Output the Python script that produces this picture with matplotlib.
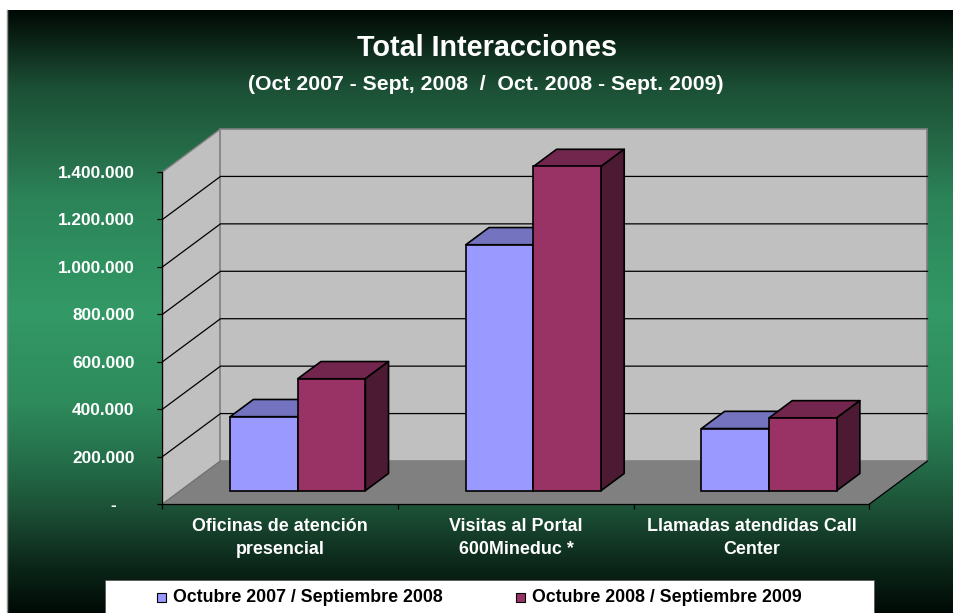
import matplotlib
matplotlib.use('Agg')
import matplotlib.pyplot as plt
from matplotlib.colors import LinearSegmentedColormap
from matplotlib.patches import Polygon, Rectangle
import numpy as np

plt.rcParams['font.family'] = ['Liberation Sans', 'DejaVu Sans']
plt.rcParams['font.weight'] = 'bold'

categories = ['Oficinas de atención\npresencial', 'Visitas al Portal\n600Mineduc *', 'Llamadas atendidas Call\nCenter']
serie_2008 = [312000, 1037000, 262000]
serie_2009 = [472000, 1367000, 307000]
nombres = ['Octubre 2007 / Septiembre 2008', 'Octubre 2008 / Septiembre 2009']
y_ticks = [0, 200000, 400000, 600000, 800000, 1000000, 1200000, 1400000]
y_labels = ['-', '200.000', '400.000', '600.000', '800.000', '1.000.000', '1.200.000', '1.400.000']

W, H = 954, 613
fig = plt.figure(figsize=(W / 100, H / 100), dpi=100, facecolor='white')

# fondo y textos en pixeles
bg = fig.add_axes([0, 0, 1, 1])
bg.set_xlim(0, W)
bg.set_ylim(H, 0)
bg.axis('off')
paradas = [(0, '#000a05'), (0.04, '#0a1f14'), (0.128, '#1c5036'), (0.23, '#256b48'), (0.315, '#2c8459'),
           (0.415, '#2f9060'), (0.5, '#339966'), (0.65, '#2e8b5c'), (0.76, '#236b48'), (0.83, '#1c5036'),
           (0.915, '#0d2a1c'), (1, '#000a05')]
cmap = LinearSegmentedColormap.from_list('fondo', paradas)
bg.imshow(np.linspace(0, 1, 256).reshape(-1, 1), cmap=cmap, aspect='auto', extent=(8, W, H, 10))
bg.set_xlim(0, W)
bg.set_ylim(H, 0)
bg.plot([7.5, 7.5], [10, H], color='#909090', lw=1)

bg.text(487, 48.5, 'Total Interacciones', color='white', fontsize=20.7, ha='center', va='center')
bg.text(486, 84, '(Oct 2007 - Sept, 2008  /  Oct. 2008 - Sept. 2009)', color='white', fontsize=15.3, ha='center', va='center')

# leyenda
bg.add_patch(Rectangle((105, 580), 769, 33, facecolor='white', edgecolor='#505050', lw=0.5))
for xm, color, nombre in zip([157, 516], ['#9999ff', '#993366'], nombres):
    bg.add_patch(Rectangle((xm, 593), 9, 9, facecolor=color, edgecolor='black', lw=0.8))
    bg.text(xm + 16, 597.5, nombre, color='black', fontsize=12.8, ha='left', va='center')

# area del grafico: plano frontal
x0, x1, y_top, y_bot = 162.5, 869.5, 172, 504
ax = fig.add_axes([x0 / W, 1 - y_bot / H, (x1 - x0) / W, (y_bot - y_top) / H])
ax.set_xlim(0, 3)
ax.set_ylim(0, 1400000)
ax.patch.set_visible(False)

# profundidad en unidades de los ejes
DX = 58 / 707 * 3
DY = 43 / 332 * 1400000
ymax = y_ticks[-1]

ax.add_patch(Polygon([(0, 0), (DX, DY), (3 + DX, DY), (3, 0)], facecolor='#808080', edgecolor='none', clip_on=False, zorder=1))
ax.add_patch(Polygon([(0, 0), (DX, DY), (DX, DY + ymax), (0, ymax)], facecolor='#c0c0c0', edgecolor='#808080', lw=1, clip_on=False, zorder=1))
ax.add_patch(Polygon([(DX, DY), (3 + DX, DY), (3 + DX, DY + ymax), (DX, DY + ymax)], facecolor='#c0c0c0', edgecolor='#808080', lw=1.2, clip_on=False, zorder=1))
for v in y_ticks[1:-1]:
    ax.plot([0, DX, 3 + DX], [v, v + DY, v + DY], color='black', lw=0.9, clip_on=False, zorder=2)
ax.plot([3, 3 + DX], [0, DY], color='black', lw=0.9, clip_on=False, zorder=2)
ax.plot([0, DX], [0, DY], color='#707070', lw=0.8, clip_on=False, zorder=2)

# barras 3D
ANCHO = 67.6 / 707 * 3
sx, sy = 0.30 * DX, 0.31 * DY
ex, ey = 0.4 * DX, 0.4 * DY


def barra(x, valor, frente, arriba, lado, z):
    izq, der = x + sx, x + sx + ANCHO
    base, tope = sy, sy + valor
    ax.add_patch(Polygon([(izq, tope), (der, tope), (der + ex, tope + ey), (izq + ex, tope + ey)],
                         facecolor=arriba, edgecolor='black', lw=1.2, clip_on=False, zorder=z, joinstyle='round'))
    ax.add_patch(Polygon([(der, base), (der + ex, base + ey), (der + ex, tope + ey), (der, tope)],
                         facecolor=lado, edgecolor='black', lw=1.2, clip_on=False, zorder=z, joinstyle='round'))
    ax.bar(izq, valor, width=ANCHO, bottom=base, align='edge', color=frente, edgecolor='black', lw=1.2, clip_on=False, zorder=z)


for i in range(len(categories)):
    c = i + 0.5
    barra(c - ANCHO, serie_2008[i], '#9999ff', '#7373bf', '#4c4c80', 3 + i)
    barra(c, serie_2009[i], '#993366', '#73264d', '#4c1a33', 3.5 + i)

# ejes
for lado in ['top', 'right']:
    ax.spines[lado].set_visible(False)
for lado in ['left', 'bottom']:
    ax.spines[lado].set_linewidth(0.9)
    ax.spines[lado].set_zorder(10)

ax.set_yticks(y_ticks)
ax.set_yticklabels(y_labels, color='white', fontsize=12.4)
ax.tick_params(axis='y', length=3.6, width=0.9, pad=16.5)
ax.yaxis.get_major_ticks()[0].set_pad(30)

ax.set_xticks([0, 1, 2, 3])
ax.set_xticklabels([])
ax.tick_params(axis='x', which='major', length=3.6, width=0.9)
ax.set_xticks([0.5, 1.5, 2.5], minor=True)
ax.set_xticklabels(categories, minor=True, color='white', fontsize=12.9, linespacing=1.5)
ax.tick_params(axis='x', which='minor', length=0, pad=10)

fig.savefig('out.png', dpi=100, facecolor='white')
